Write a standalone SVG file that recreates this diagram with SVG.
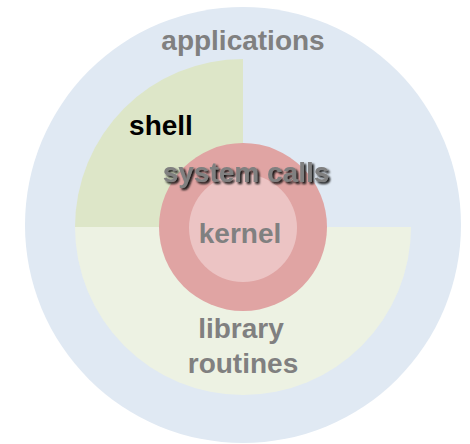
<svg xmlns="http://www.w3.org/2000/svg" width="470" height="444" viewBox="0 0 470 444">
<style>
text{font-family:"Liberation Sans",Arial,sans-serif;font-weight:bold;font-size:28px;text-anchor:middle}
.g{fill:#808080}
</style>
<defs>
<filter id="shadow" x="-10%" y="-30%" width="120%" height="160%">
<feDropShadow dx="2" dy="2" stdDeviation="0.8" flood-color="#111" flood-opacity="1"/>
</filter>
</defs>
<rect width="470" height="444" fill="#ffffff"/>
<g id="applications">
<circle cx="243" cy="225" r="218" fill="#e0e9f3"/>
<text class="g" x="243" y="50">applications</text>
</g>
<g id="library">
<path d="M75,227 A168,168 0 0 0 411,227 Z" fill="#edf2e3"/>
<text class="g" x="241" y="338">library</text>
<text class="g" x="243" y="373">routines</text>
</g>
<g id="shell">
<path d="M243,227 L75,227 A168,168 0 0 1 243,59 Z" fill="#dde6c8"/>
<text x="161" y="135" fill="#000">shell</text>
</g>
<g id="syscalls">
<circle cx="243" cy="227" r="84" fill="#e0a4a3"/>
</g>
<g id="kernel">
<circle cx="243" cy="228" r="54" fill="#ecc4c4"/>
<text class="g" x="240" y="243">kernel</text>
</g>
<g id="syscalls-label">
<text class="g" x="246" y="182" filter="url(#shadow)">system calls</text>
</g>
</svg>
